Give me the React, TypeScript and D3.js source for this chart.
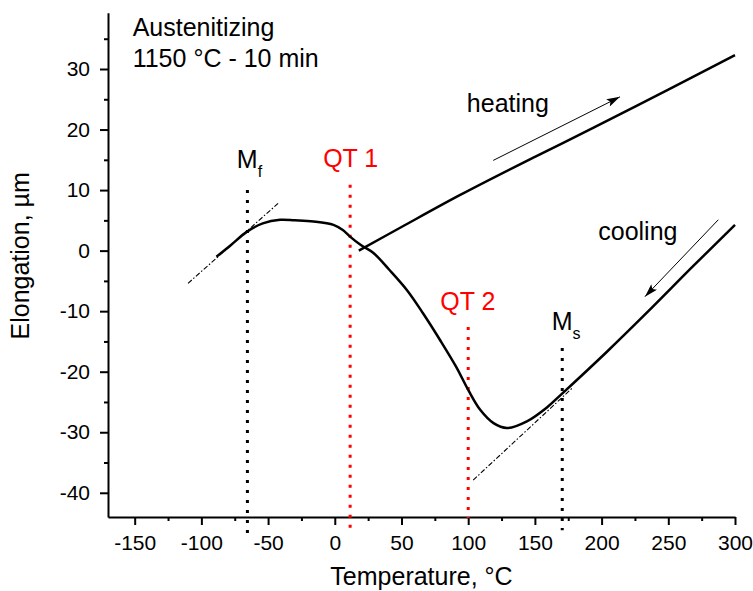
import React, { useEffect, useRef } from 'react';
import * as d3 from 'd3';

// cooling curve (temperature °C, elongation µm)
const coolT = [-88.7, -78, -66, -54, -41, -30, -16, -1, 6, 11, 19, 29, 41, 54, 66, 79, 91, 100, 109, 119, 129, 144, 159, 170, 204, 236, 268, 300];
const coolE = [-1.0, 0.9, 3.1, 4.5, 5.1, 5.0, 4.8, 4.25, 3.4, 2.4, 1.0, -0.4, -3.2, -6.5, -10.3, -14.8, -19.2, -23.0, -26.3, -28.5, -29.3, -28.2, -25.9, -23.7, -16.7, -9.8, -2.7, 4.25];

// heating curve
const heatT = [18, 50, 94, 150, 194, 250, 300];
const heatE = [0, 3.9, 9.2, 15.5, 20.3, 26.6, 32.3];

// dash-dot tangents
const tangents = [
  { t: [-110, -42.5], e: [-5.4, 7.8] },
  { t: [103.75, 178], e: [-37.9, -22.7] }
];

// vertical markers
const markerNames = ['M', 'QT 1', 'QT 2', 'M'];
const markerSubs = ['f', '', '', 's'];
const markerT = [-65.5, 11.5, 100, 170.5];
const markerTop = [10, 10.9, -12.6, -16.1];
const markerBottom = [-46.7, -45.8, -44.2, -46.2];
const markerColors = ['#000', '#ff0000', '#ff0000', '#000'];

const xMajor = [-150, -100, -50, 0, 50, 100, 150, 200, 250, 300];
const xMinor = [-125, -75, -25, 25, 75, 125, 175, 225, 275];
const yMajor = [-40, -30, -20, -10, 0, 10, 20, 30];
const yMinor = [-35, -25, -15, -5, 5, 15, 25, 35];

const FONT = '"Liberation Sans", Arial, sans-serif';

const App = () => {
  const ref = useRef<SVGSVGElement>(null);

  useEffect(() => {
    const svg = d3.select(ref.current);
    svg.selectAll('*').remove();

    const x = d3.scaleLinear().domain([-170, 300]).range([108, 735]);
    const y = d3.scaleLinear().domain([-44, 39.3]).range([517, 12.7]);

    const defs = svg.append('defs');
    defs.append('marker')
      .attr('id', 'arrowhead')
      .attr('viewBox', '0 0 10 6')
      .attr('refX', 10)
      .attr('refY', 3)
      .attr('markerWidth', 14)
      .attr('markerHeight', 8)
      .attr('markerUnits', 'userSpaceOnUse')
      .attr('orient', 'auto')
      .append('path')
      .attr('d', 'M0,0 L10,3 L0,6 L2,3 Z')
      .attr('fill', '#000');

    const fmt = (d: any) => String(d); // plain hyphen minus like the original

    // axes
    const gx = svg.append('g').attr('transform', `translate(0,${y(-44)})`);
    gx.call(d3.axisBottom(x).tickValues(xMajor).tickSize(8).tickSizeOuter(0).tickPadding(10).tickFormat(fmt));
    gx.append('g').call(d3.axisBottom(x).tickValues(xMinor).tickSize(4).tickSizeOuter(0).tickFormat(() => ''))
      .select('.domain').remove();

    const gy = svg.append('g').attr('transform', `translate(${x(-170)},0)`);
    gy.call(d3.axisLeft(y).tickValues(yMajor).tickSize(8).tickSizeOuter(0).tickPadding(10).tickFormat(fmt));
    gy.append('g').call(d3.axisLeft(y).tickValues(yMinor).tickSize(4).tickSizeOuter(0).tickFormat(() => ''))
      .select('.domain').remove();

    svg.selectAll('.domain').attr('stroke-width', 2);
    svg.selectAll('.tick line').attr('stroke-width', 2);
    svg.selectAll('.tick text')
      .attr('font-family', FONT)
      .attr('font-size', 21)
      .attr('fill', '#000');

    // axis titles
    svg.append('text')
      .attr('x', (x(-170) + x(300)) / 2)
      .attr('y', 585)
      .attr('text-anchor', 'middle')
      .attr('font-family', FONT)
      .attr('font-size', 25)
      .text('Temperature, °C');
    svg.append('text')
      .attr('transform', `translate(29,${(y(-44) + y(39.3)) / 2 - 9}) rotate(-90)`)
      .attr('text-anchor', 'middle')
      .attr('font-family', FONT)
      .attr('font-size', 25)
      .text('Elongation, µm');

    // vertical dotted markers
    markerT.forEach((t, i) => {
      svg.append('line')
        .attr('x1', x(t)).attr('x2', x(t))
        .attr('y1', y(markerTop[i])).attr('y2', y(markerBottom[i]))
        .attr('stroke', markerColors[i])
        .attr('stroke-width', 3)
        .attr('stroke-dasharray', '3,7');
    });

    // tangents
    const line = d3.line<[number, number]>().x(d => x(d[0])).y(d => y(d[1]));
    tangents.forEach(tg => {
      svg.append('path')
        .attr('d', line([[tg.t[0], tg.e[0]], [tg.t[1], tg.e[1]]]))
        .attr('fill', 'none')
        .attr('stroke', '#000')
        .attr('stroke-width', 1.1)
        .attr('stroke-dasharray', '5,2,1.5,2');
    });

    // curves
    const curve = d3.line<[number, number]>()
      .x(d => x(d[0])).y(d => y(d[1]))
      .curve(d3.curveCatmullRom.alpha(0.5));
    svg.append('path')
      .attr('d', curve(coolT.map((t, i) => [t, coolE[i]])))
      .attr('fill', 'none').attr('stroke', '#000').attr('stroke-width', 2.5);
    svg.append('path')
      .attr('d', curve(heatT.map((t, i) => [t, heatE[i]])))
      .attr('fill', 'none').attr('stroke', '#000').attr('stroke-width', 2.5);

    // direction arrows
    const arrows = [
      [[118.75, 14.9], [213.75, 25.4]],
      [[287.5, 5.1], [232.5, -7.6]]
    ];
    arrows.forEach(a => {
      svg.append('path')
        .attr('d', line(a as [number, number][]))
        .attr('stroke', '#000')
        .attr('stroke-width', 1)
        .attr('marker-end', 'url(#arrowhead)');
    });

    // marker labels
    const labelDx = [-10.6, -27, -28, -10.6];
    const labelDy = [-21.7, -18, -17, -18];
    markerT.forEach((t, i) => {
      const txt = svg.append('text')
        .attr('x', x(t) + labelDx[i])
        .attr('y', y(markerTop[i]) + labelDy[i])
        .attr('font-family', FONT)
        .attr('font-size', 25)
        .attr('fill', markerColors[i])
        .text(markerNames[i]);
      if (markerSubs[i]) {
        txt.append('tspan')
          .attr('font-size', 16)
          .attr('dy', 9)
          .text(markerSubs[i]);
      }
    });

    const notes = [
      { s: 'heating', t: 99, e: 22.9 },
      { s: 'cooling', t: 197.5, e: 1.8 },
      { s: 'Austenitizing', t: -151.5, e: 35.5 },
      { s: '1150 °C - 10 min', t: -151.5, e: 30.4 }
    ];
    notes.forEach(n => {
      svg.append('text')
        .attr('x', x(n.t))
        .attr('y', y(n.e))
        .attr('font-family', FONT)
        .attr('font-size', 25)
        .attr('fill', '#000')
        .text(n.s);
    });
  }, []);

  return (
    <svg
      ref={ref}
      width={753}
      height={591}
      style={{ position: 'absolute', left: 0, top: 0, background: '#fff' }}
    />
  );
};

export default App;
